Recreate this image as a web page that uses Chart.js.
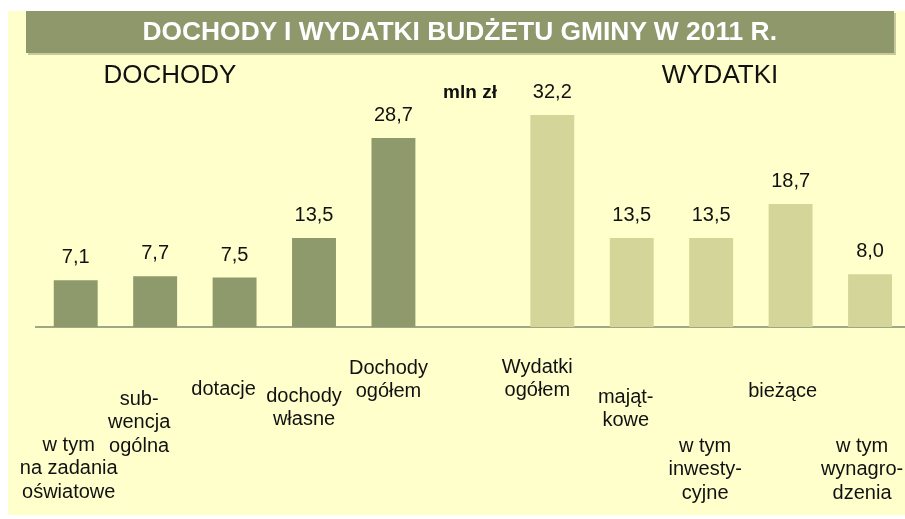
<!DOCTYPE html>
<html>
<head>
<meta charset="utf-8">
<script src="https://cdn.jsdelivr.net/npm/chart.js@4"></script>
<style>
  html, body { margin: 0; padding: 0; background: #fff; overflow: hidden; }
  #panel { position: absolute; left: 8px; top: 11px; width: 897px; height: 504px; background: #FFFFCC; }
  #title {
    position: absolute; left: 26px; top: 11px; width: 868px; height: 42px;
    background: #8E986B; box-shadow: 2px 2px 0 #C7CB9B;
    color: #fff; font: bold 25px "Liberation Sans", Arial, sans-serif;
    display: flex; align-items: center; justify-content: center;
  }
  #title span { display: inline-block; transform: scaleX(1.055); margin-top: -2px; }
  #wrap { position: absolute; left: 0; top: 0; width: 920px; height: 519px; }
</style>
</head>
<body>
<div id="panel"></div>
<div id="wrap"><canvas id="chart"></canvas></div>
<div id="title"><span>DOCHODY I WYDATKI BUDŻETU GMINY W 2011 R.</span></div>

<script>
// data
const categories = [
  ["w tym", "na zadania", "oświatowe"],
  ["sub-", "wencja", "ogólna"],
  ["dotacje"],
  ["dochody", "własne"],
  ["Dochody", "ogółem"],
  [""],
  ["Wydatki", "ogółem"],
  ["mająt-", "kowe"],
  ["w tym", "inwesty-", "cyjne"],
  ["bieżące"],
  ["w tym", "wynagro-", "dzenia"]
];
const dochody = [7.1, 7.7, 7.5, 13.5, 28.7, null, null, null, null, null, null];
const wydatki = [null, null, null, null, null, null, 32.2, 13.5, 13.5, 18.7, 8.0];
const groupTitles = ["DOCHODY", "WYDATKI"];
const unitLabel = "mln zł";

// label placement (baseline of first line, horizontal nudge)
const labelBaseline = [451, 405, 395, 402, 374, 0, 373, 403, 452, 397, 452];
const labelDx = [-7, -16, -11, -10, -5, 0, -15, -6, -6, -8, -8];
const FONT = '"Liberation Sans", Arial, sans-serif';

const fmt = v => v.toFixed(1).replace(".", ",");

const textPlugin = {
  id: "texts",
  afterDatasetsDraw(chart) {
    const ctx = chart.ctx;
    ctx.save();
    ctx.fillStyle = "#111";
    ctx.textAlign = "center";
    ctx.textBaseline = "alphabetic";

    // values above bars
    ctx.font = "20px " + FONT;
    chart.data.datasets.forEach((ds, di) => {
      chart.getDatasetMeta(di).data.forEach((bar, i) => {
        if (ds.data[i] == null) return;
        ctx.fillText(fmt(ds.data[i]), bar.x, bar.y - 17);
      });
    });

    // category labels
    const xs = chart.scales.x;
    categories.forEach((lines, i) => {
      const x = xs.getPixelForValue(i) + labelDx[i];
      lines.forEach((t, k) => ctx.fillText(t, x, labelBaseline[i] + k * 23.3));
    });

    // group headers and unit
    ctx.font = "26px " + FONT;
    ctx.fillText(groupTitles[0], 170, 83);
    ctx.fillText(groupTitles[1], 720, 83);
    ctx.font = "bold 19px " + FONT;
    ctx.fillText(unitLabel, 470, 98);
    ctx.restore();
  }
};

new Chart(document.getElementById("chart"), {
  type: "bar",
  data: {
    labels: categories,
    datasets: [
      { data: dochody, backgroundColor: "#8E9A6C" },
      { data: wydatki, backgroundColor: "#D3D698" }
    ]
  },
  options: {
    responsive: true,
    maintainAspectRatio: false,
    devicePixelRatio: 1,
    animation: false,
    layout: { padding: { left: 36, right: 10.25, top: 63.65, bottom: 192 } },
    datasets: { bar: { grouped: false, categoryPercentage: 1, barPercentage: 0.553 } },
    plugins: { legend: { display: false }, tooltip: { enabled: false } },
    scales: {
      x: {
        grid: { display: false, drawTicks: false },
        ticks: { display: false },
        border: { display: true, color: "#9FA787", width: 2 }
      },
      y: { display: false, min: 0, max: 40 }
    }
  },
  plugins: [textPlugin]
});
</script>
</body>
</html>
